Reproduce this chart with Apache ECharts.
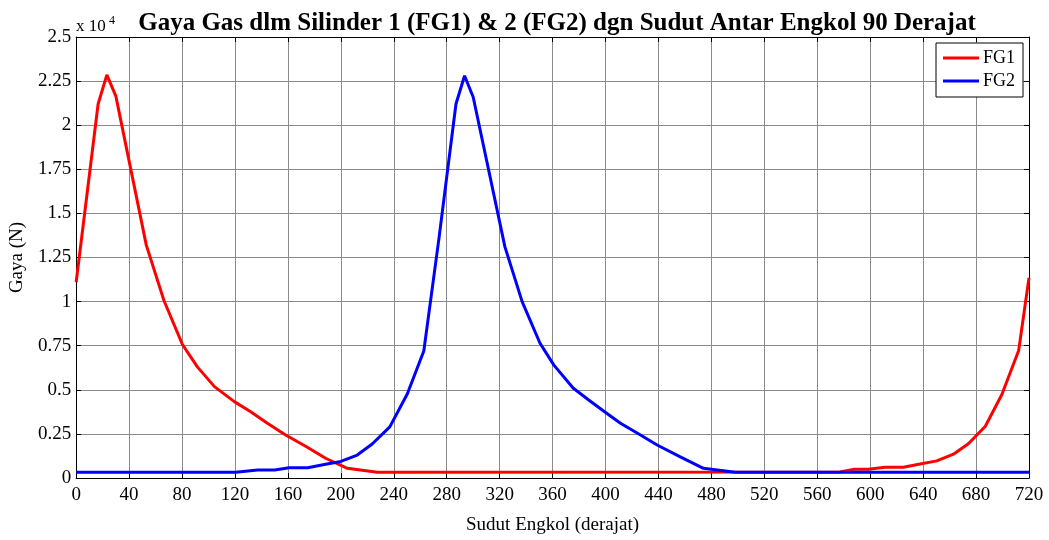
<!DOCTYPE html>
<html>
<head>
<meta charset="utf-8">
<script src="https://cdn.jsdelivr.net/npm/echarts@6/dist/echarts.min.js"></script>
<style>html,body{margin:0;padding:0;background:#fff;}#c{width:1049px;height:540px;}</style>
</head>
<body>
<div id="c"></div>
<script>
// Data (force in N, angle in degrees)
const fg1X = [0, 16.6, 23.2, 30, 53, 66.4, 80.3, 91.6, 104.5, 119.5, 131.9, 144.5, 158.3, 173.4, 188.5, 204.9, 227.5, 577, 587.3, 598.6, 611.2, 625.1, 637.7, 650.3, 662.9, 674.4, 687, 699.5, 712.2, 720];
const fg1Y = [11100, 21200, 22850, 21650, 13200, 10050, 7570, 6300, 5180, 4330, 3760, 3100, 2440, 1800, 1120, 550, 320, 340, 490, 490, 610, 610, 790, 970, 1350, 1960, 2930, 4730, 7230, 11350];
const fg2X = [0, 120.6, 137, 150, 161, 175, 188.5, 200, 212.4, 223.7, 237, 250.2, 262.7, 274, 287, 293.5, 300, 324, 337, 350.5, 361, 375.5, 387.3, 399.3, 411.3, 423.9, 439, 456.5, 474, 498, 720];
const fg2Y = [320, 320, 450, 450, 580, 580, 780, 940, 1300, 1930, 2900, 4760, 7200, 13500, 21200, 22800, 21600, 13100, 10000, 7640, 6400, 5100, 4420, 3760, 3100, 2550, 1870, 1200, 550, 320, 320];
const xTicks = {min: 0, max: 720, step: 40};
const yTicks = {min: 0, max: 25000, step: 2500};

const zip = (xs, ys) => xs.map((x, i) => [x, ys[i]]);
const FONT = '"Liberation Serif", "Times New Roman", serif';
const fmtY = v => String(+(v / 10000).toFixed(2));

const chart = echarts.init(document.getElementById('c'), null, {renderer: 'canvas'});
const gridLine = {show: true, lineStyle: {color: '#8a8a8a', width: 1}};
const axisBase = {
  type: 'value',
  axisLine: {show: true, onZero: false, lineStyle: {color: '#000', width: 1}},
  axisTick: {show: true, inside: true, length: 5, lineStyle: {color: '#000'}},
};
chart.setOption({
  animation: false,
  backgroundColor: '#fff',
  title: {
    text: 'Gaya Gas dlm Silinder 1 (FG1) & 2 (FG2) dgn Sudut Antar Engkol 90 Derajat',
    left: 552, top: 6, textAlign: 'center',
    textStyle: {fontFamily: FONT, fontWeight: 'bold', fontSize: 25, color: '#000'}
  },
  grid: {left: 75, right: 20, top: 37, bottom: 62, containLabel: false},
  legend: {
    data: ['FG1', 'FG2'], orient: 'vertical', left: 936, top: 43,
    itemWidth: 36, itemHeight: 3, itemGap: 5, icon: 'rect',
    padding: [6, 8, 7, 7],
    borderColor: '#000', borderWidth: 1, backgroundColor: '#fff', borderRadius: 0,
    textStyle: {fontFamily: FONT, fontSize: 18, color: '#000', padding: [0, 0, 0, -1], lineHeight: 18}
  },
  xAxis: [
    Object.assign({}, axisBase, {
      position: 'bottom', min: xTicks.min, max: xTicks.max, interval: xTicks.step,
      name: 'Sudut Engkol (derajat)', nameLocation: 'middle', nameGap: 38,
      nameTextStyle: {fontFamily: FONT, fontSize: 19, color: '#000'},
      axisLabel: {fontFamily: FONT, fontSize: 19, color: '#000', margin: 8},
      splitLine: gridLine
    }),
    Object.assign({}, axisBase, {
      position: 'top', min: xTicks.min, max: xTicks.max, interval: xTicks.step,
      axisLabel: {show: false}, splitLine: {show: false}
    })
  ],
  yAxis: [
    Object.assign({}, axisBase, {
      position: 'left', min: yTicks.min, max: yTicks.max, interval: yTicks.step,
      name: 'Gaya (N)', nameLocation: 'middle', nameGap: 46, nameRotate: 90,
      nameTextStyle: {fontFamily: FONT, fontSize: 19, color: '#000'},
      axisLabel: {fontFamily: FONT, fontSize: 19, color: '#000', margin: 5, formatter: fmtY},
      splitLine: gridLine
    }),
    Object.assign({}, axisBase, {
      position: 'right', min: yTicks.min, max: yTicks.max, interval: yTicks.step,
      axisLabel: {show: false}, splitLine: {show: false}
    })
  ],
  graphic: [
    {type: 'text', x: 76, y: 26.5,
     style: {text: 'x 10', font: '17px ' + FONT, fill: '#000', textAlign: 'left', textVerticalAlign: 'middle'}},
    {type: 'text', x: 109, y: 20.5,
     style: {text: '4', font: '12px ' + FONT, fill: '#000', textAlign: 'left', textVerticalAlign: 'middle'}}
  ],
  series: [
    {name: 'FG1', type: 'line', data: zip(fg1X, fg1Y), showSymbol: false, symbol: 'none',
     lineStyle: {color: '#ff0000', width: 3}, itemStyle: {color: '#ff0000'}, clip: true, z: 3},
    {name: 'FG2', type: 'line', data: zip(fg2X, fg2Y), showSymbol: false, symbol: 'none',
     lineStyle: {color: '#0000ff', width: 3}, itemStyle: {color: '#0000ff'}, clip: true, z: 4}
  ]
});
</script>
</body>
</html>
